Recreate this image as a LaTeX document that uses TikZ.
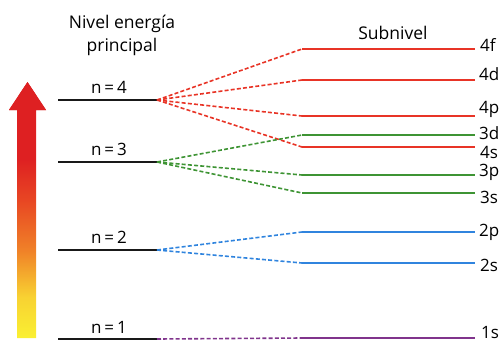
\documentclass[tikz,border=0pt]{standalone}
\usepackage{fontspec}
\setmainfont{Open Sans}
\begin{document}
\definecolor{cred}{RGB}{232,52,38}
\definecolor{cgreen}{RGB}{62,148,52}
\definecolor{cblue}{RGB}{48,132,222}
\definecolor{cpurp}{RGB}{128,52,140}
\definecolor{ared}{RGB}{222,32,34}
\definecolor{aorange}{RGB}{240,110,40}
\definecolor{ayellow}{RGB}{250,240,50}
\pgfdeclareverticalshading{heat}{100bp}{
  color(0bp)=(ayellow); color(25bp)=(ayellow);
  color(33bp)=(rgb,255:red,248;green,210;blue,50);
  color(42bp)=(rgb,255:red,240;green,130;blue,40);
  color(52bp)=(rgb,255:red,232;green,70;blue,35);
  color(60bp)=(ared); color(100bp)=(ared)}
\begin{tikzpicture}[x=1pt,y=-1pt,
  lvl/.style={draw=black!90,line width=2.2pt},
  sub/.style={line width=1.8pt},
  conn/.style={line width=1.6pt,dash pattern=on 4pt off 2.2pt},
  nlab/.style={font=\fontsize{17}{18}\selectfont,text=black},
  slab/.style={font=\fontsize{17}{18}\selectfont,text=black,anchor=west,inner sep=0pt},
  ttl/.style={font=\fontsize{17.5}{23}\selectfont,text=black,align=center}]
\useasboundingbox (0,0) rectangle (503,343);
% arrow
\shade[shading=heat]
  (17,338) -- (17,110) -- (9,110) -- (27.5,82) -- (46,110) -- (36,110) -- (36,338) -- cycle;
\fill[ared] (9,110) -- (27.5,82) -- (46,110) -- cycle;
% titles
\node[ttl] (t1) at (122,35) {Nivel energía\\principal};
\node[ttl] (t2) at (393,33) {Subnivel};
% principal levels
\coordinate (n4a) at (58,100); \coordinate (n4) at (157,100);
\coordinate (n3a) at (58,162); \coordinate (n3) at (157,162);
\coordinate (n2a) at (58,250); \coordinate (n2) at (157,250);
\coordinate (n1a) at (58,339); \coordinate (n1) at (157,339);
\draw[lvl] (n4a) -- (n4);
\draw[lvl] (n3a) -- (n3);
\draw[lvl] (n2a) -- (n2);
\draw[lvl] (n1a) -- (n1);
\node[nlab] (l4) at (109,87) {n\,=\,4};
\node[nlab] (l3) at (109,149) {n\,=\,3};
\node[nlab] (l2) at (109,237) {n\,=\,2};
\node[nlab] (l1) at (109,327) {n\,=\,1};
% sublevels
\foreach \nm/\yy/\cc in {4f/49/cred,4d/80/cred,4p/116/cred,3d/135/cgreen,4s/147/cred,3p/175/cgreen,3s/193/cgreen,2p/232/cblue,2s/263/cblue,1s/338/cpurp}{
  \coordinate (s\nm) at (302,\yy);
  \coordinate (e\nm) at (475,\yy);
  \draw[sub,\cc] (s\nm) -- (e\nm);
}
\node[slab] (L4f) at (480,45) {4f};
\node[slab] (L4d) at (479,74) {4d};
\node[slab] (L4p) at (479,109) {4p};
\node[slab] (L3d) at (479,133) {3d};
\node[slab] (L4s) at (480,152) {4s};
\node[slab] (L3p) at (479,172) {3p};
\node[slab] (L3s) at (480,197) {3s};
\node[slab] (L2p) at (479,232) {2p};
\node[slab] (L2s) at (480,265) {2s};
\node[slab] (L1s) at (481,333) {1s};
% connectors
\foreach \s in {4f,4d,4p,4s} \draw[conn,cred] (n4) -- (s\s);
\foreach \s in {3d,3p,3s} \draw[conn,cgreen] (n3) -- (s\s);
\foreach \s in {2p,2s} \draw[conn,cblue] (n2) -- (s\s);
\draw[conn,cpurp] (n1) -- (s1s);
\end{tikzpicture}
\end{document}
